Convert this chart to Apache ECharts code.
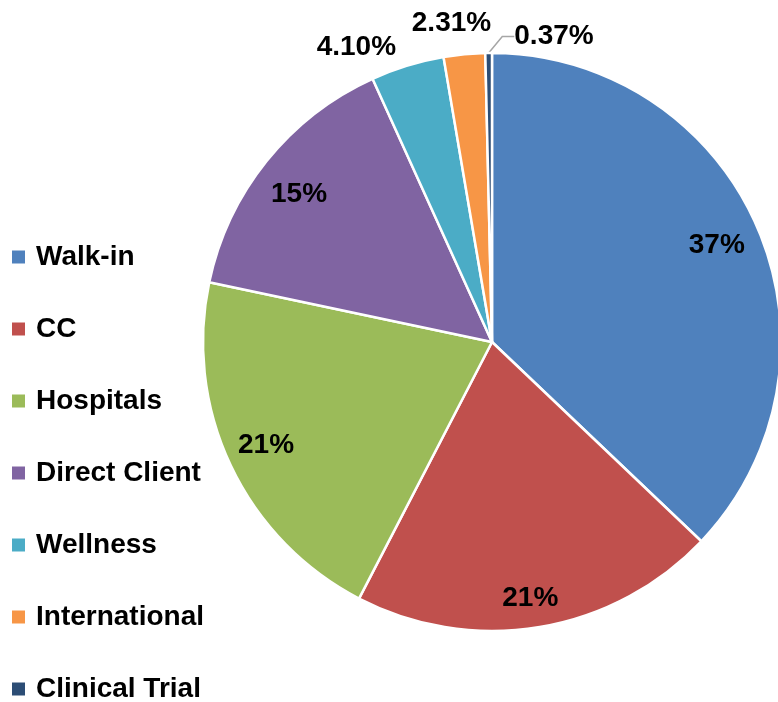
<!DOCTYPE html>
<html>
<head>
<meta charset="utf-8">
<script src="https://cdn.jsdelivr.net/npm/echarts@6/dist/echarts.min.js"></script>
<style>
  html, body { margin: 0; padding: 0; background: #fff; }
  #chart { width: 778px; height: 702px; }
</style>
</head>
<body>
<div id="chart"></div>
<script>
// share of visits by channel (%)
var categories = ['Walk-in', 'CC', 'Hospitals', 'Direct Client', 'Wellness', 'International', 'Clinical Trial'];
var shares = [37.1, 20.5, 20.7, 14.9, 4.10, 2.31, 0.37];
var colors = ['#4F81BD', '#C0504D', '#9BBB59', '#8064A2', '#4BACC6', '#F79646', '#2C4D75'];

var FONT = '"Liberation Sans", Arial, sans-serif';
var CENTER = [492, 342];
var R = 289;

function fmt(v) {
  return v >= 10 ? Math.round(v) + '%' : v.toFixed(2) + '%';
}

// outside labels only for the thin slices; nudges to match the Excel placement
var lineLen = { 'Wellness': [23, 4], 'International': [33, 0], 'Clinical Trial': [12, 12] };
var nudge = {
  4: { dx: 92, dy: -34 },
  5: { dx: 35, dy: 2 }
};
// small shifts of the big in-slice labels (Excel "best fit")
var innerNudge = {
  0: { dx: -5, dy: 2 },
  1: { dx: -3, dy: 10 },
  2: { dx: 0, dy: -4 },
  3: { dx: 2, dy: 9 }
};

var mainData = categories.map(function (name, i) {
  var small = shares[i] < 10;
  var item = {
    name: name,
    value: shares[i],
    itemStyle: { color: colors[i] },
    label: { show: small }
  };
  if (small) {
    item.labelLine = {
      show: name === 'Clinical Trial',
      length: lineLen[name][0],
      length2: lineLen[name][1]
    };
  }
  return item;
});

// transparent ring that carries the big labels further out than the default midpoint
var ringData = categories.map(function (name, i) {
  return {
    name: name,
    value: shares[i],
    label: { show: shares[i] >= 10 }
  };
});

var chart = echarts.init(document.getElementById('chart'));

var option = {
  animation: false,
  color: colors,
  legend: {
    data: categories,
    orient: 'vertical',
    left: 12,
    top: 243,
    height: 470,
    padding: 0,
    icon: 'rect',
    itemWidth: 13,
    itemHeight: 13,
    itemGap: 44,
    itemStyle: { borderWidth: 0 },
    selectedMode: false,
    textStyle: {
      fontFamily: FONT,
      fontSize: 28,
      fontWeight: 'bold',
      color: '#000',
      lineHeight: 28,
      padding: [0, 0, 0, 6]
    }
  },
  series: [{
    name: 'Channel',
    type: 'pie',
    center: CENTER,
    radius: R,
    startAngle: 90,
    clockwise: true,
    data: mainData,
    itemStyle: {
      borderColor: '#fff',
      borderWidth: 2.5
    },
    label: {
      position: 'outside',
      formatter: function (p) { return fmt(p.value); },
      fontFamily: FONT,
      fontSize: 28,
      fontWeight: 'bold',
      color: '#000'
    },
    labelLine: {
      lineStyle: { color: '#A6A6A6', width: 1.5 }
    },
    labelLayout: function (params) {
      if (params.dataIndex === 6) {
        // flip the tiny slice's label to the right of the top, line redrawn to it
        var r = params.labelRect;
        return {
          x: r.x + r.width + 165,
          y: r.y + r.height / 2 - 15,
          align: 'left'
        };
      }
      return nudge[params.dataIndex] || {};
    },
    emphasis: { disabled: true }
  }, {
    name: 'labels',
    type: 'pie',
    silent: true,
    center: CENTER,
    radius: [205, R],
    startAngle: 90,
    clockwise: true,
    data: ringData,
    itemStyle: { color: 'transparent' },
    label: {
      position: 'inside',
      formatter: function (p) { return fmt(p.value); },
      fontFamily: FONT,
      fontSize: 28,
      fontWeight: 'bold',
      color: '#000'
    },
    labelLayout: function (params) {
      return innerNudge[params.dataIndex] || {};
    },
    labelLine: { show: false },
    tooltip: { show: false }
  }]
};

chart.setOption(option);
</script>
</body>
</html>
